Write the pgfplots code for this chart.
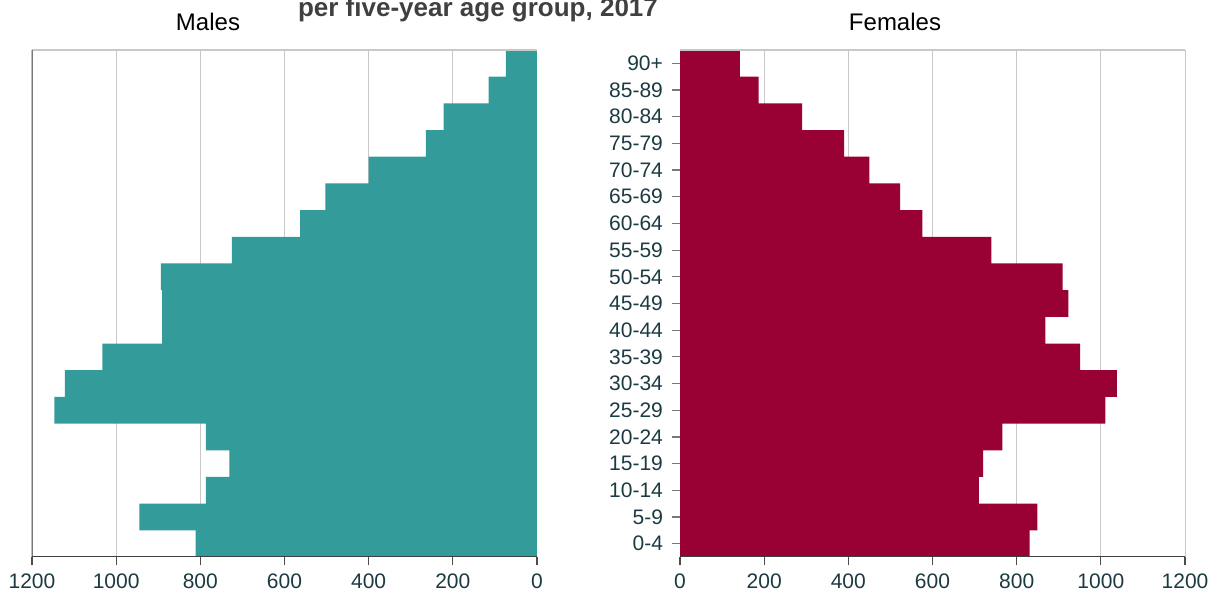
\documentclass[border=0pt]{standalone}
\usepackage{fontspec}
\setmainfont{Liberation Sans}
\usepackage{pgfplots}
\pgfplotsset{compat=1.18}

\definecolor{maleteal}{RGB}{51,155,153}
\definecolor{femred}{RGB}{153,0,51}
\definecolor{ticktext}{RGB}{28,58,66}
\definecolor{gridgray}{RGB}{200,200,200}
\definecolor{axisgray}{RGB}{120,120,120}
\definecolor{titlegray}{RGB}{64,64,64}

% population per five-year age group, 0-4 (row 0) up to 90+ (row 18)
\pgfplotstableread{
y  males females
0  811   831
1  945   849
2  787   710
3  731   720
4  787   766
5  1147  1011
6  1122  1038
7  1033  951
8  891   868
9  891   923
10 894   909
11 725   740
12 563   576
13 503   523
14 400   450
15 264   390
16 222   290
17 115   187
18 74    142
}\pyramid

\pgfplotsset{
  pyr/.style={
    scale only axis,
    width=252.5pt, height=253.5pt,
    xmin=0, xmax=1200,
    ymin=-0.5, ymax=18.5,
    xbar, bar width=1,
    xtick={0,200,...,1200},
    xtick pos=bottom, ytick pos=left,
    xmajorgrids,
    major grid style={gridgray, line width=0.5pt},
    axis line style={draw=none},
    tick align=outside,
    x tick style={black!70, line width=0.6pt},
    major tick length=4pt,
    ticklabel style={font=\fontsize{10.5}{12}\selectfont, text=ticktext},
    /pgf/number format/assume math mode=true,
    scaled x ticks=false,
    xticklabel style={/pgf/number format/1000 sep={}, yshift=-1pt},
  },
}

\begin{document}
\begin{tikzpicture}
\path[use as bounding box] (0,0) rectangle (605.5pt,296pt);

% Males
\begin{axis}[pyr, at={(16pt,17.5pt)}, anchor=south west,
  x dir=reverse, ytick=\empty]
  \addplot[fill=maleteal, draw=none] table[x=males, y=y] {\pyramid};
  \draw[gridgray, line width=0.6pt] (rel axis cs:0,1) -- (rel axis cs:1,1);
  \draw[axisgray, line width=0.6pt] (rel axis cs:0,0) -- (rel axis cs:0,1);
  \draw[black!75, line width=0.6pt] (rel axis cs:0,0) -- (rel axis cs:1,0);
\end{axis}

% Females
\begin{axis}[pyr, at={(340pt,17.5pt)}, anchor=south west,
  ytick={0,...,18},
  yticklabels={0-4,5-9,10-14,15-19,20-24,25-29,30-34,35-39,40-44,45-49,50-54,55-59,60-64,65-69,70-74,75-79,80-84,85-89,90+},
  y tick style={axisgray, line width=0.6pt},
  yticklabel style={xshift=-1pt},
  ]
  \addplot[fill=femred, draw=none] table[x=females, y=y] {\pyramid};
  \draw[gridgray, line width=0.6pt] (rel axis cs:0,1) -- (rel axis cs:1,1);
  \draw[black!75, line width=0.6pt] (rel axis cs:0,0) -- (rel axis cs:1,0);
\end{axis}

\node[font=\fontsize{12}{14}\selectfont, anchor=base] at (104pt,280.5pt) {Males};
\node[font=\fontsize{12}{14}\selectfont, anchor=base] at (447.5pt,280.5pt) {Females};
\node[font=\bfseries\fontsize{13}{15}\selectfont, text=titlegray, anchor=base] at (239pt,287.5pt) {per five-year age group, 2017};
\end{tikzpicture}
\end{document}
